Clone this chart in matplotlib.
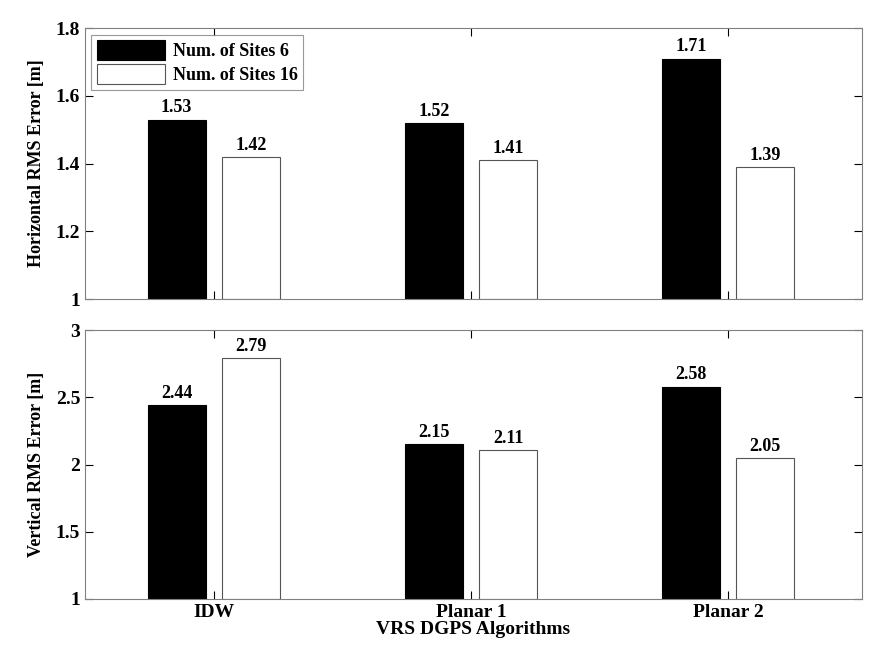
import numpy as np
import matplotlib.pyplot as plt
from matplotlib.ticker import FormatStrFormatter

plt.rcParams['font.family'] = ['Liberation Serif', 'DejaVu Serif']
plt.rcParams['font.weight'] = 'bold'
plt.rcParams['font.size'] = 12

# data
algorithms = ['IDW', 'Planar 1', 'Planar 2']
series_names = ['Num. of Sites 6', 'Num. of Sites 16']
horiz_6 = [1.53, 1.52, 1.71]
horiz_16 = [1.42, 1.41, 1.39]
vert_6 = [2.44, 2.15, 2.58]
vert_16 = [2.79, 2.11, 2.05]

frame_col = '#808080'
x = np.arange(1, len(algorithms) + 1)
w = 0.225
off = 0.144

fig = plt.figure(figsize=(8.84, 6.67), dpi=100)
ax1 = fig.add_axes([0.0962, 0.5517, 0.879, 0.406])
ax2 = fig.add_axes([0.0962, 0.102, 0.879, 0.403])


def draw(ax, v6, v16, ylim, yticks, ylabel):
    b1 = ax.bar(x - off, np.array(v6) - ylim[0], w, bottom=ylim[0],
                color='black', edgecolor='black', linewidth=0.8, label=series_names[0])
    b2 = ax.bar(x + off, np.array(v16) - ylim[0], w, bottom=ylim[0],
                color='white', edgecolor='#555555', linewidth=0.8, label=series_names[1])
    for bars, vals in ((b1, v6), (b2, v16)):
        for r, v in zip(bars, vals):
            ax.text(r.get_x() + r.get_width() / 2, v + (ylim[1] - ylim[0]) * 0.012,
                    '%.2f' % v, ha='center', va='bottom', fontsize=13, fontweight='bold')
    ax.set_xlim(0.5, 3.52)
    ax.set_ylim(*ylim)
    ax.set_yticks(yticks)
    ax.yaxis.set_major_formatter(FormatStrFormatter('%g'))
    ax.set_xticks(x)
    ax.set_ylabel(ylabel, fontsize=13, fontweight='bold', labelpad=8)
    ax.tick_params(direction='in', length=6, width=0.8, top=True, right=True,
                   labelsize=14, color='black')
    for s in ax.spines.values():
        s.set_color(frame_col)
        s.set_linewidth(0.8)
    return b1, b2


draw(ax1, horiz_6, horiz_16, (1, 1.8), [1, 1.2, 1.4, 1.6, 1.8], 'Horizontal RMS Error [m]')
ax1.set_xticklabels([])
leg = ax1.legend(loc='upper left', fontsize=13, frameon=True, fancybox=False,
                 handlelength=3.8, handleheight=1.3, borderaxespad=0.35,
                 labelspacing=0.25, borderpad=0.3, handletextpad=0.4)
leg.get_frame().set_edgecolor(frame_col)
leg.get_frame().set_linewidth(0.8)

draw(ax2, vert_6, vert_16, (1, 3), [1, 1.5, 2, 2.5, 3], 'Vertical RMS Error [m]')
ax2.set_xticklabels(algorithms, fontsize=14)
ax2.set_xlabel('VRS DGPS Algorithms', fontsize=14, fontweight='bold', labelpad=0)

fig.savefig('out.png', dpi=100)
